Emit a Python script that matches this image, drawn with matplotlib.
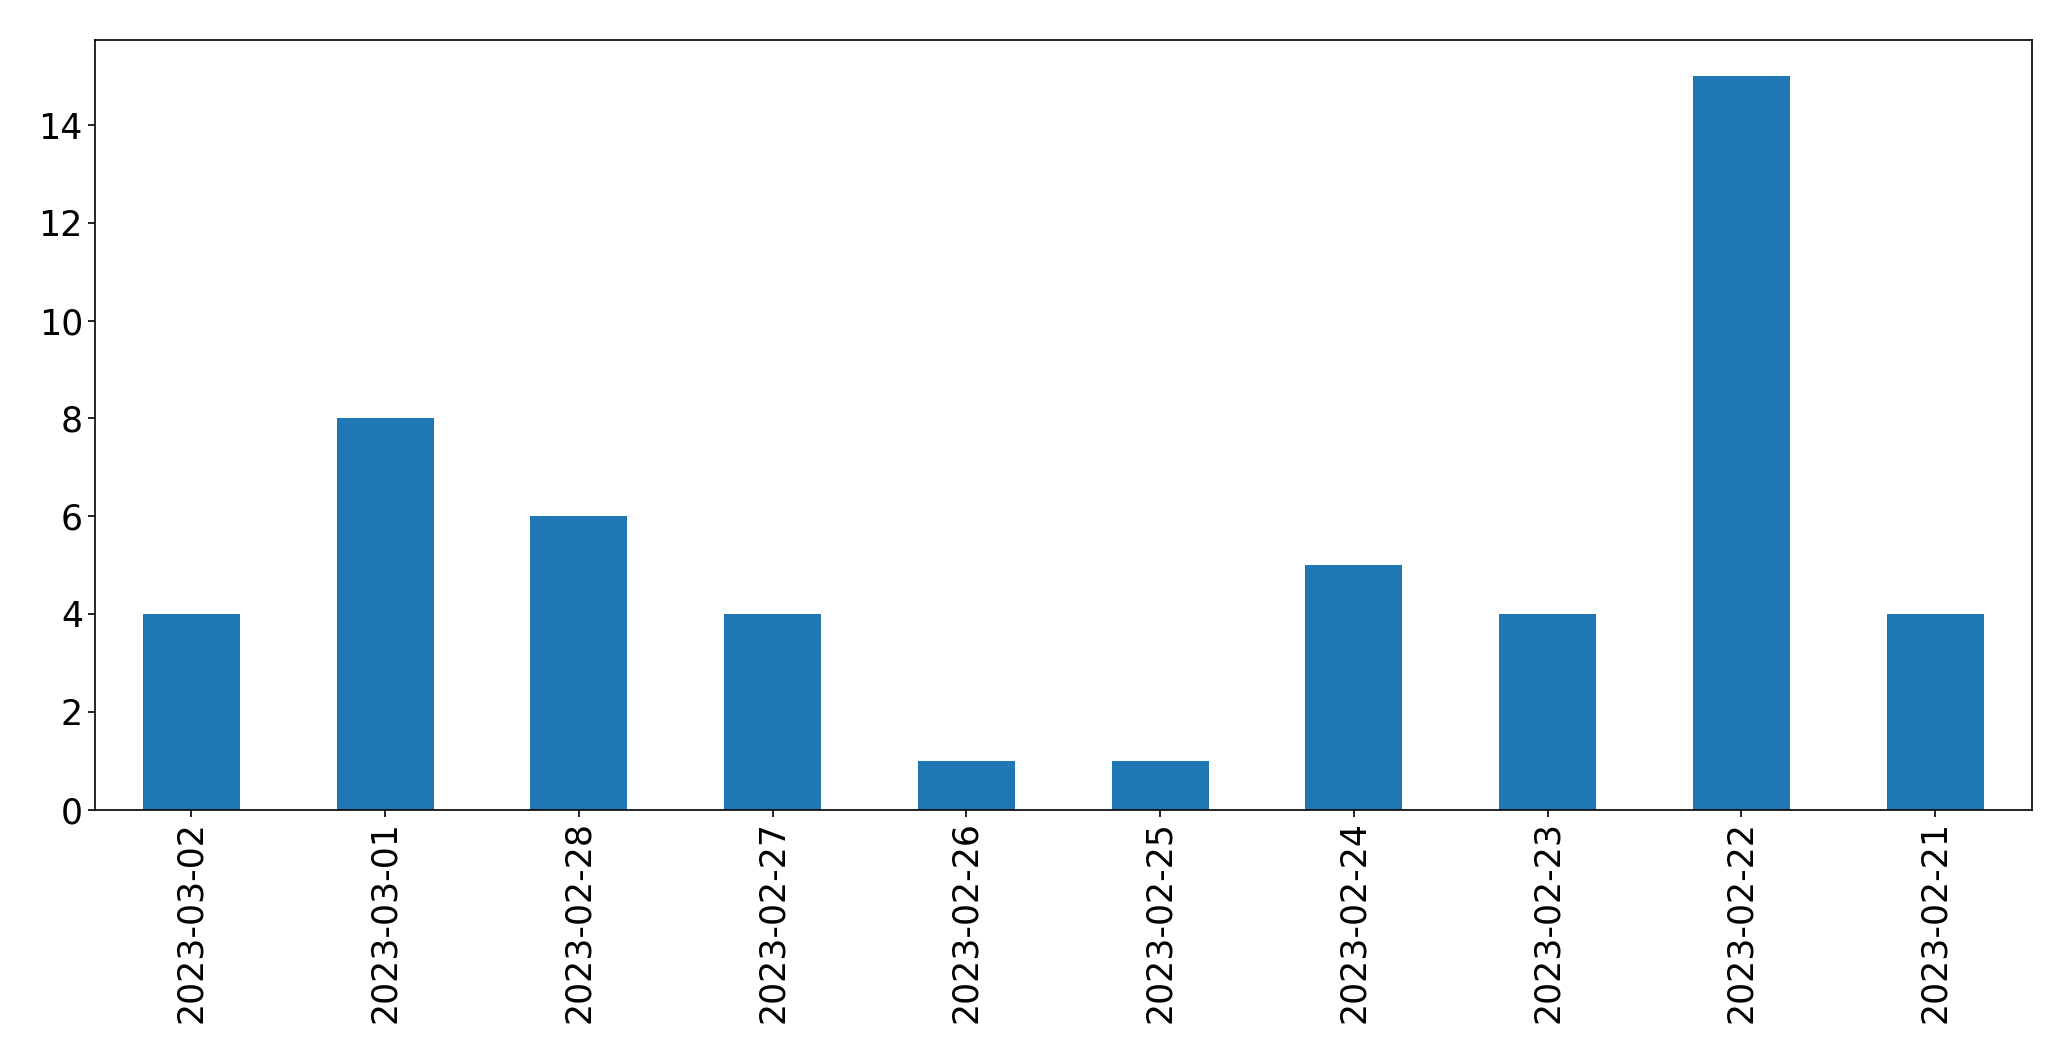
import matplotlib
matplotlib.use("Agg")
import matplotlib.pyplot as plt

dates = ["2023-03-02", "2023-03-01", "2023-02-28", "2023-02-27", "2023-02-26",
         "2023-02-25", "2023-02-24", "2023-02-23", "2023-02-22", "2023-02-21"]
counts = [4, 8, 6, 4, 1, 1, 5, 4, 15, 4]

fig = plt.figure(figsize=(20.71, 10.61), dpi=100)
ax = fig.add_axes([94.5 / 2071, 1 - 809.5 / 1061, (2032 - 94.5) / 2071, (809.5 - 39.5) / 1061])

x = range(len(dates))
ax.bar(x, counts, width=0.5, color="#1f77b4")
ax.set_xlim(-0.5, len(dates) - 0.5)
ax.set_ylim(0, max(counts) * 1.05)
ax.set_xticks(list(x))
ax.set_xticklabels(dates, rotation=90)
ax.tick_params(axis="both", labelsize=25, length=5.3, width=1.2, pad=3)
for s in ax.spines.values():
    s.set_linewidth(1.2)

fig.savefig("out.png", dpi=100)
